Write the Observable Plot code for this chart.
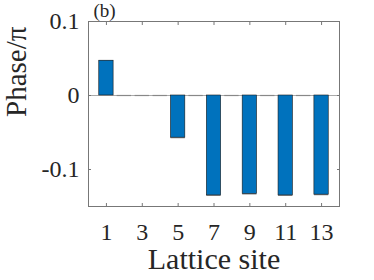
<!DOCTYPE html>
<html>
<head>
<meta charset="utf-8">
<script src="https://cdn.jsdelivr.net/npm/d3@7"></script>
<script src="https://cdn.jsdelivr.net/npm/@observablehq/plot@0.6"></script>
<style>
  html, body { margin: 0; padding: 0; background: #fff; }
</style>
</head>
<body>
<div id="chart"></div>
<script>
const sites = [1, 2, 3, 4, 5, 6, 7, 8, 9, 10, 11, 12, 13];
const phases = [0.047, 0, 0, 0, -0.057, 0, -0.135, 0, -0.133, 0, -0.135, 0, -0.134];
const xTicks = [1, 3, 5, 7, 9, 11, 13];
const yTicks = [-0.1, 0, 0.1];
const yTickLabels = ["-0.1", "0", "0.1"];
const xLabel = ["Lattice site"];
const yLabel = ["Phase/π"];
const panelLabel = ["(b)"];

const data = sites.map((s, i) => ({site: s, phase: phases[i]}));
const barHalf = 0.4;

const font = "'Liberation Serif', 'DejaVu Serif', serif";
const axisColor = "#777";
const textColor = "#262626";

const chart = Plot.plot({
  width: 374,
  height: 280,
  marginLeft: 88,
  marginRight: 35,
  marginTop: 21,
  marginBottom: 74,
  style: {fontFamily: font, background: "#fff", color: textColor, overflow: "visible"},
  x: {domain: [0, 14]},
  y: {domain: [-0.15, 0.1]},
  marks: [
    // zero baseline
    Plot.ruleY([0], {stroke: "#aaa", strokeWidth: 1.2}),
    // zero-height bar edges
    Plot.ruleY(data, {y: "phase", x1: d => d.site - barHalf, x2: d => d.site + barHalf, stroke: "#888", strokeWidth: 1.2}),
    // bars
    Plot.rect(data.filter(d => d.phase !== 0), {
      x1: d => d.site - barHalf,
      x2: d => d.site + barHalf,
      y1: 0,
      y2: "phase",
      fill: "#0072BD",
      stroke: "#1a1a1a",
      strokeWidth: 0.6
    }),
    Plot.frame({stroke: axisColor, strokeWidth: 1}),
    // inward ticks
    Plot.axisX({anchor: "bottom", ticks: xTicks, tickSize: -3, stroke: axisColor, text: null, label: null}),
    Plot.axisX({anchor: "top", ticks: xTicks, tickSize: -3, stroke: axisColor, text: null, label: null}),
    Plot.axisY({anchor: "left", ticks: yTicks, tickSize: -3, stroke: axisColor, text: null, label: null}),
    Plot.axisY({anchor: "right", ticks: yTicks, tickSize: -3, stroke: axisColor, text: null, label: null}),
    // tick labels
    Plot.axisX({
      anchor: "bottom", ticks: xTicks, tickSize: 0, tickPadding: 16,
      fontSize: 24, fill: textColor, label: null
    }),
    Plot.axisY({
      anchor: "left", ticks: yTicks, tickSize: 0, tickPadding: 9,
      tickFormat: d => yTickLabels[yTicks.indexOf(d)] ?? "",
      fontSize: 24, fill: textColor, label: null
    }),
    // axis titles
    Plot.text(xLabel, {
      frameAnchor: "bottom", dy: 53, lineAnchor: "middle",
      fontSize: 30, fill: textColor
    }),
    Plot.text(yLabel, {
      frameAnchor: "left", dx: -72, dy: 3, rotate: -90, lineAnchor: "middle",
      fontSize: 29, fill: textColor
    }),
    Plot.text(panelLabel, {
      frameAnchor: "top-left", dx: 5, dy: -18, textAnchor: "start", lineAnchor: "top",
      fontSize: 19, fill: textColor
    })
  ]
});

document.getElementById("chart").appendChild(chart);
</script>
</body>
</html>
